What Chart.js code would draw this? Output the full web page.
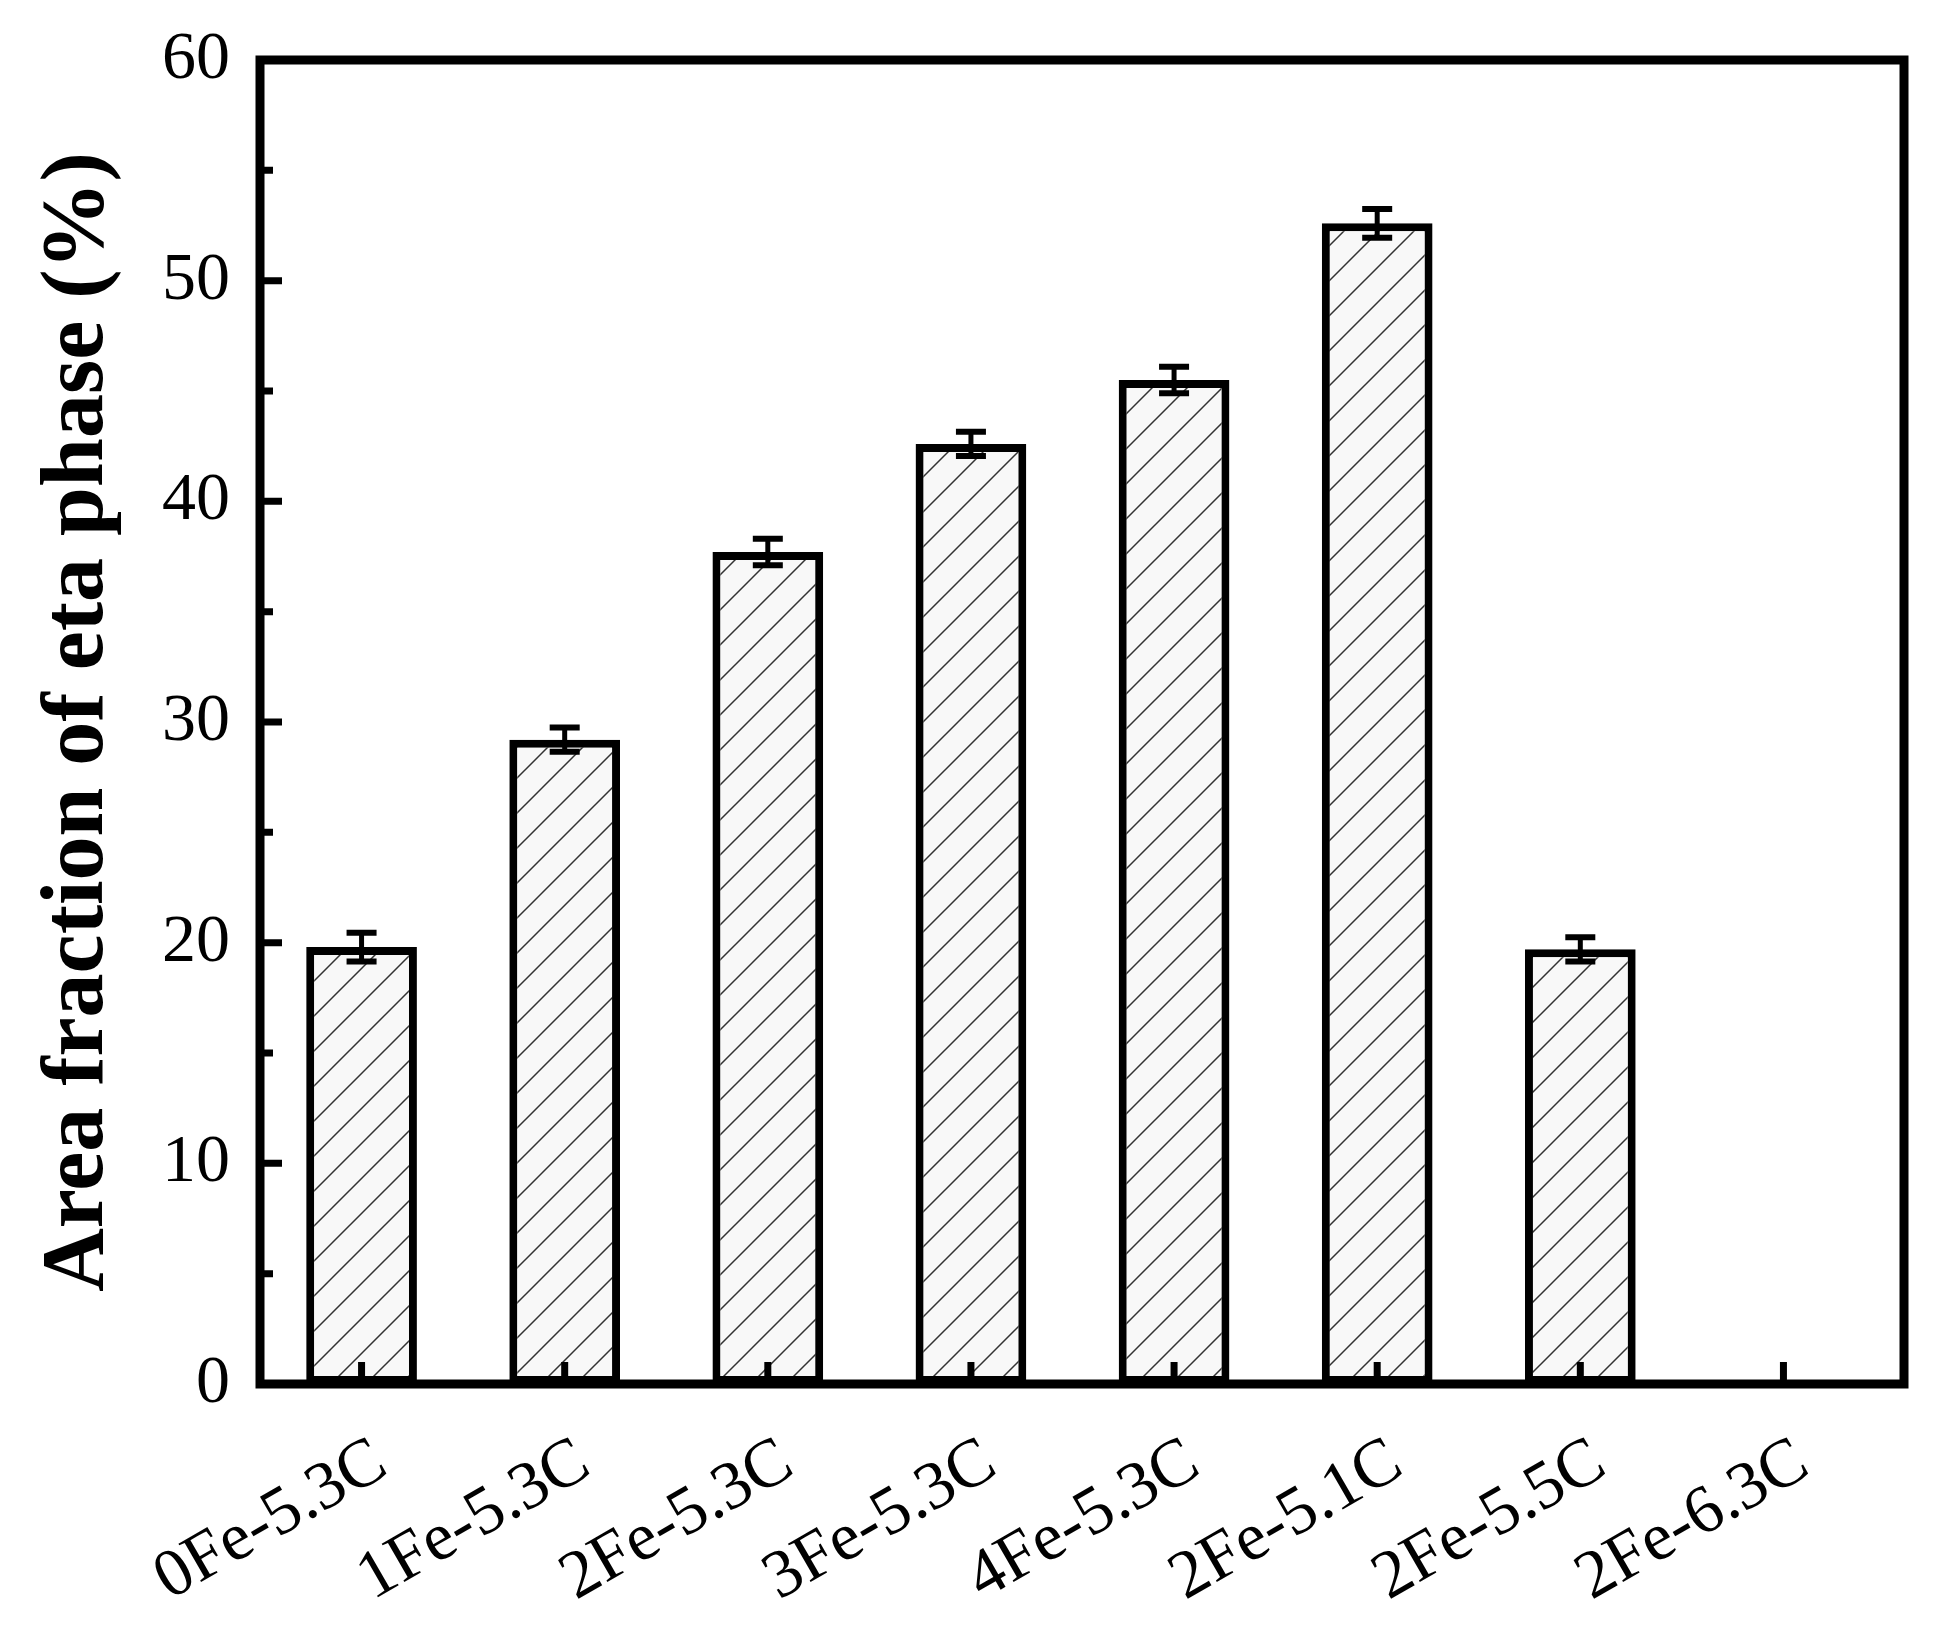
<!DOCTYPE html>
<html>
<head>
<meta charset="utf-8">
<script src="https://cdn.jsdelivr.net/npm/chart.js@4/dist/chart.umd.min.js"></script>
<style>
html,body{margin:0;padding:0;background:#fff;}
#wrap{width:1946px;height:1637px;}
</style>
</head>
<body>
<div id="wrap"><canvas id="c" width="1946" height="1637"></canvas></div>
<script>
const categories = ['0Fe-5.3C','1Fe-5.3C','2Fe-5.3C','3Fe-5.3C','4Fe-5.3C','2Fe-5.1C','2Fe-5.5C','2Fe-6.3C'];
const values = [19.8, 29.2, 37.7, 42.6, 45.5, 52.6, 19.7, 0];
const errors = [0.65, 0.55, 0.6, 0.55, 0.6, 0.65, 0.55, 0];
const yTickValues = [0, 10, 20, 30, 40, 50, 60];
const yTitle = 'Area fraction of eta phase (%)';

function makeHatch() {
  const s = 35;
  const c = document.createElement('canvas');
  c.width = s; c.height = s;
  const g = c.getContext('2d');
  g.fillStyle = '#f8f8f8';
  g.fillRect(0, 0, s, s);
  g.strokeStyle = '#333';
  g.lineWidth = 1.5;
  g.beginPath();
  g.moveTo(0, s); g.lineTo(s, 0);
  g.moveTo(-2, 2); g.lineTo(2, -2);
  g.moveTo(s - 2, s + 2); g.lineTo(s + 2, s - 2);
  g.stroke();
  return document.getElementById('c').getContext('2d').createPattern(c, 'repeat');
}

const EXTRA_RIGHT = 19;

const decorPlugin = {
  id: 'decor',
  afterDatasetsDraw(chart) {
    const ctx = chart.ctx;
    const ca = chart.chartArea;
    const xs = chart.scales.x;
    const ys = chart.scales.y;
    ctx.save();
    const meta = chart.getDatasetMeta(0);
    ctx.strokeStyle = '#000';
    meta.data.forEach((bar, i) => {
      const e = errors[i];
      if (!values[i] || !e) return;
      const x = bar.x;
      const yT = ys.getPixelForValue(values[i] + e);
      const yB = ys.getPixelForValue(values[i] - e);
      ctx.lineWidth = 5;
      ctx.beginPath();
      ctx.moveTo(x, yT); ctx.lineTo(x, yB);
      ctx.stroke();
      ctx.lineWidth = 6;
      ctx.beginPath();
      ctx.moveTo(x - 15, yT); ctx.lineTo(x + 15, yT);
      ctx.moveTo(x - 15, yB); ctx.lineTo(x + 15, yB);
      ctx.stroke();
    });
    ctx.lineWidth = 7;
    ctx.beginPath();
    categories.forEach((c, i) => {
      const x = xs.getPixelForValue(i);
      ctx.moveTo(x, ca.bottom); ctx.lineTo(x, ca.bottom - 22);
    });
    ctx.stroke();
    ctx.beginPath();
    for (let v = ys.min; v <= ys.max; v += 5) {
      const y = ys.getPixelForValue(v);
      const len = (v % 10 === 0) ? 22 : 13;
      ctx.moveTo(ca.left, y); ctx.lineTo(ca.left + len, y);
    }
    ctx.stroke();
    ctx.lineWidth = 9;
    ctx.strokeRect(ca.left, ca.top, ca.right + EXTRA_RIGHT - ca.left, ca.bottom - ca.top);
    ctx.restore();
  }
};

Chart.defaults.color = '#000';
Chart.defaults.font.family = '"Liberation Serif", "Times New Roman", serif';

new Chart(document.getElementById('c'), {
  type: 'bar',
  data: {
    labels: categories,
    datasets: [{
      data: values,
      backgroundColor: makeHatch(),
      borderColor: '#000',
      borderWidth: 8,
      borderSkipped: false,
      barPercentage: 0.545,
      categoryPercentage: 1.0
    }]
  },
  options: {
    responsive: false,
    animation: false,
    events: [],
    layout: { padding: { top: 60, right: 61, bottom: 0, left: 0 } },
    plugins: { legend: { display: false }, tooltip: { enabled: false } },
    scales: {
      x: {
        grid: { display: false, drawTicks: false },
        border: { display: false },
        afterFit: (s) => { s.height = 253; },
        ticks: {
          font: { size: 68 },
          minRotation: 30,
          maxRotation: 30,
          padding: 38,
          labelOffset: 20
        }
      },
      y: {
        min: 0,
        max: 60,
        afterBuildTicks: (s) => { s.ticks = yTickValues.map(v => ({ value: v })); },
        afterFit: (s) => { s.width = 260; s.paddingTop = 0; s.paddingBottom = 0; },
        grid: { display: false, drawTicks: false },
        border: { display: false },
        ticks: { font: { size: 68 }, padding: 30 },
        title: {
          display: true,
          text: yTitle,
          font: { size: 88, weight: 'bold' },
          padding: { top: 26, bottom: 0 }
        }
      }
    }
  },
  plugins: [decorPlugin]
});
</script>
</body>
</html>
